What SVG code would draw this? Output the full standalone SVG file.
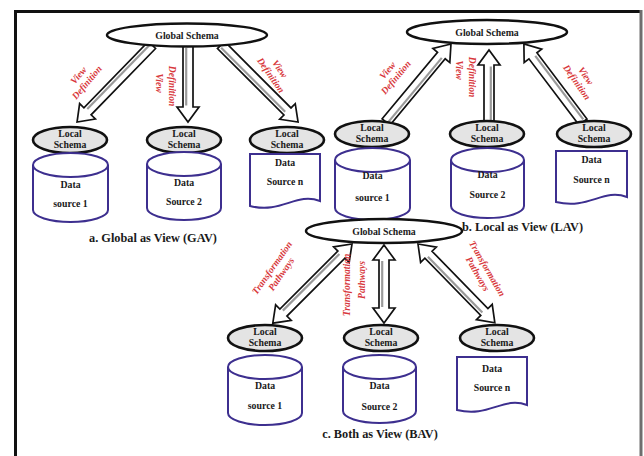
<svg xmlns="http://www.w3.org/2000/svg" width="644" height="456" viewBox="0 0 644 456">
<style>
.frame{stroke:#111;stroke-width:3;fill:none}
.gs{fill:#fff;stroke:#111;stroke-width:2.5}
.ls{fill:#e4e4e4;stroke:#111;stroke-width:2.6}
.ds{fill:#fff;stroke:#3d2f8f;stroke-width:2}
.arr{fill:#fff;stroke:#111;stroke-width:1.7;stroke-linejoin:miter}
.arrs{fill:none;stroke:#9a9a9a;stroke-width:2.2}
.t{font-family:"Liberation Serif","Times New Roman",serif;font-weight:bold;font-size:9.8px;fill:#1a1a1a;text-anchor:middle}
.cap{font-family:"Liberation Serif","Times New Roman",serif;font-weight:bold;font-size:12.3px;fill:#1a1a1a;text-anchor:middle}
.lb{font-family:"Liberation Serif","Times New Roman",serif;font-weight:bold;font-style:italic;font-size:9.6px;fill:#d8383c;text-anchor:middle}
</style>
<rect width="644" height="456" fill="#fff"/>
<g id="frame">
<line x1="15.5" y1="10" x2="15.5" y2="456" class="frame"/>
<line x1="14" y1="11.5" x2="642" y2="11.5" class="frame"/>
<line x1="641" y1="10" x2="641" y2="456" stroke="#6e6e6e" stroke-width="3"/>
</g>

<g id="connectors">
<!-- panel a -->
<g transform="translate(152,45) rotate(134.2)"><path class="arr" d="M0,-5 H92.5 V-11 L107.5,0 L92.5,11 V5 H0 Z"/><path class="arrs" d="M2,1.8 H91"/></g>
<g transform="translate(188,46) rotate(90)"><path class="arr" d="M0,-5 H61 V-11 L76,0 L61,11 V5 H0 Z"/><path class="arrs" d="M2,1.8 H59.5"/></g>
<g transform="translate(221,45) rotate(45)"><path class="arr" d="M0,-5 H94 V-11 L109,0 L94,11 V5 H0 Z"/><path class="arrs" d="M2,1.8 H92.5"/></g>
<!-- panel b -->
<g transform="translate(386,122) rotate(-50.2)"><path class="arr" d="M0,-5 H86.5 V-11 L101.5,0 L86.5,11 V5 H0 Z"/><path class="arrs" d="M2,1.8 H85"/></g>
<g transform="translate(489,122) rotate(-90)"><path class="arr" d="M0,-5 H57 V-11 L72,0 L57,11 V5 H0 Z"/><path class="arrs" d="M2,1.8 H55.5"/></g>
<g transform="translate(583,122) rotate(-127.1)"><path class="arr" d="M0,-5 H83 V-11 L98,0 L83,11 V5 H0 Z"/><path class="arrs" d="M2,1.8 H81.5"/></g>
<!-- panel c -->
<g transform="translate(352,244) rotate(135)"><path class="arr" d="M0,0 L15,-11 V-5 H97 V-11 L112,0 L97,11 V5 H15 V11 Z"/><path class="arrs" d="M16,1.8 H96"/></g>
<g transform="translate(384,245) rotate(90)"><path class="arr" d="M0,0 L15,-11 V-5 H63 V-11 L78,0 L63,11 V5 H15 V11 Z"/><path class="arrs" d="M16,1.8 H62"/></g>
<g transform="translate(418,244) rotate(45.7)"><path class="arr" d="M0,0 L15,-11 V-5 H95 V-11 L110,0 L95,11 V5 H15 V11 Z"/><path class="arrs" d="M16,1.8 H94"/></g>
</g>

<g id="labels">
<text class="lb" transform="translate(84,80) rotate(-50)"><tspan x="0" y="-4">View</tspan><tspan x="0" y="7">Definition</tspan></text>
<text class="lb" transform="translate(156,83) rotate(90)">View</text>
<text class="lb" transform="translate(169,86) rotate(90)">Definition</text>
<text class="lb" transform="translate(274,73) rotate(55)"><tspan x="0" y="-4">View</tspan><tspan x="0" y="7">Definition</tspan></text>

<text class="lb" transform="translate(393,75) rotate(-50)"><tspan x="0" y="-4">View</tspan><tspan x="0" y="7">Definition</tspan></text>
<text class="lb" transform="translate(456,70) rotate(90)">View</text>
<text class="lb" transform="translate(469,77) rotate(90)">Definition</text>
<text class="lb" transform="translate(580,80) rotate(55)"><tspan x="0" y="-4">View</tspan><tspan x="0" y="7">Definition</tspan></text>

<text class="lb" transform="translate(278,272) rotate(-55)"><tspan x="0" y="-4">Transformation</tspan><tspan x="0" y="7">Pathways</tspan></text>
<text class="lb" transform="translate(350,285) rotate(-90)">Transformation</text>
<text class="lb" transform="translate(365,280) rotate(-90)">Pathways</text>
<text class="lb" transform="translate(481,272) rotate(60)"><tspan x="0" y="-4">Transformation</tspan><tspan x="0" y="7">Pathways</tspan></text>
</g>

<!-- Panel a -->
<g id="a-global"><ellipse class="gs" cx="187" cy="35" rx="80" ry="11.5"/><text class="t" x="187" y="38.5">Global Schema</text></g>
<g id="a-local1"><ellipse class="ls" cx="70" cy="140" rx="37" ry="13"/><text class="t" x="70" y="137">Local</text><text class="t" x="70" y="148">Schema</text></g>
<g id="a-local2"><ellipse class="ls" cx="184" cy="140" rx="37" ry="13"/><text class="t" x="184" y="137">Local</text><text class="t" x="184" y="148">Schema</text></g>
<g id="a-local3"><ellipse class="ls" cx="287" cy="140" rx="37" ry="13"/><text class="t" x="287" y="137">Local</text><text class="t" x="287" y="148">Schema</text></g>
<g id="a-ds1"><path class="ds" d="M33,165 V210 A37.5,12 0 0 0 108,210 V165"/><ellipse class="ds" cx="70.5" cy="165" rx="37.5" ry="12"/><text class="t" x="70.5" y="188">Data</text><text class="t" x="70.5" y="207">source 1</text></g>
<g id="a-ds2"><path class="ds" d="M147,164 V208 A37,12 0 0 0 221,208 V164"/><ellipse class="ds" cx="184" cy="164" rx="37" ry="12"/><text class="t" x="184" y="186">Data</text><text class="t" x="184" y="205">Source 2</text></g>
<g id="a-dsn"><path class="ds" d="M250,154 H320 V201 C296,192 282,214 250,206 Z"/><text class="t" x="285" y="166">Data</text><text class="t" x="285" y="185">Source n</text></g>
<text class="cap" x="153" y="242">a. Global as View (GAV)</text>

<!-- Panel b -->
<g id="b-global"><ellipse class="gs" cx="487" cy="32" rx="80" ry="12"/><text class="t" x="487" y="35.5">Global Schema</text></g>
<g id="b-local1"><ellipse class="ls" cx="372" cy="134" rx="37" ry="13"/><text class="t" x="372" y="131">Local</text><text class="t" x="372" y="142">Schema</text></g>
<g id="b-local2"><ellipse class="ls" cx="487" cy="134" rx="37" ry="13"/><text class="t" x="487" y="131">Local</text><text class="t" x="487" y="142">Schema</text></g>
<g id="b-local3"><ellipse class="ls" cx="594" cy="134" rx="37" ry="13"/><text class="t" x="594" y="131">Local</text><text class="t" x="594" y="142">Schema</text></g>
<g id="b-ds1"><path class="ds" d="M335,160 V208 A37.5,12 0 0 0 410,208 V160"/><ellipse class="ds" cx="372.5" cy="160" rx="37.5" ry="12"/><text class="t" x="372.5" y="179">Data</text><text class="t" x="372.5" y="201">source 1</text></g>
<g id="b-ds2"><path class="ds" d="M451,160 V206 A36.5,12 0 0 0 524,206 V160"/><ellipse class="ds" cx="487.5" cy="160" rx="36.5" ry="12"/><text class="t" x="487.5" y="178">Data</text><text class="t" x="487.5" y="198">Source 2</text></g>
<g id="b-dsn"><path class="ds" d="M556,151 H627 V197 C603,188 589,210 556,202 Z"/><text class="t" x="591.5" y="163">Data</text><text class="t" x="591.5" y="183">Source n</text></g>
<text class="cap" x="462" y="231" style="text-anchor:start">b. Local as View (LAV)</text>

<!-- Panel c -->
<g id="c-global"><ellipse class="gs" cx="384" cy="231" rx="78" ry="12"/><text class="t" x="384" y="234.5">Global Schema</text></g>
<g id="c-local1"><ellipse class="ls" cx="265" cy="338" rx="37" ry="13"/><text class="t" x="265" y="335">Local</text><text class="t" x="265" y="346">Schema</text></g>
<g id="c-local2"><ellipse class="ls" cx="381" cy="338" rx="37" ry="13"/><text class="t" x="381" y="335">Local</text><text class="t" x="381" y="346">Schema</text></g>
<g id="c-local3"><ellipse class="ls" cx="497" cy="338" rx="37" ry="13"/><text class="t" x="497" y="335">Local</text><text class="t" x="497" y="346">Schema</text></g>
<g id="c-ds1"><path class="ds" d="M228,367 V413 A37,12 0 0 0 302,413 V367"/><ellipse class="ds" cx="265" cy="367" rx="37" ry="12"/><text class="t" x="265" y="389">Data</text><text class="t" x="265" y="409">source 1</text></g>
<g id="c-ds2"><path class="ds" d="M343,367 V411 A36.5,12 0 0 0 416,411 V367"/><ellipse class="ds" cx="379.5" cy="367" rx="36.5" ry="12"/><text class="t" x="379.5" y="389">Data</text><text class="t" x="379.5" y="410">Source 2</text></g>
<g id="c-dsn"><path class="ds" d="M457,357 H527 V405 C503,396 489,418 457,410 Z"/><text class="t" x="492" y="372">Data</text><text class="t" x="492" y="391">Source n</text></g>
<text class="cap" x="380" y="438">c. Both as View (BAV)</text>
</svg>
